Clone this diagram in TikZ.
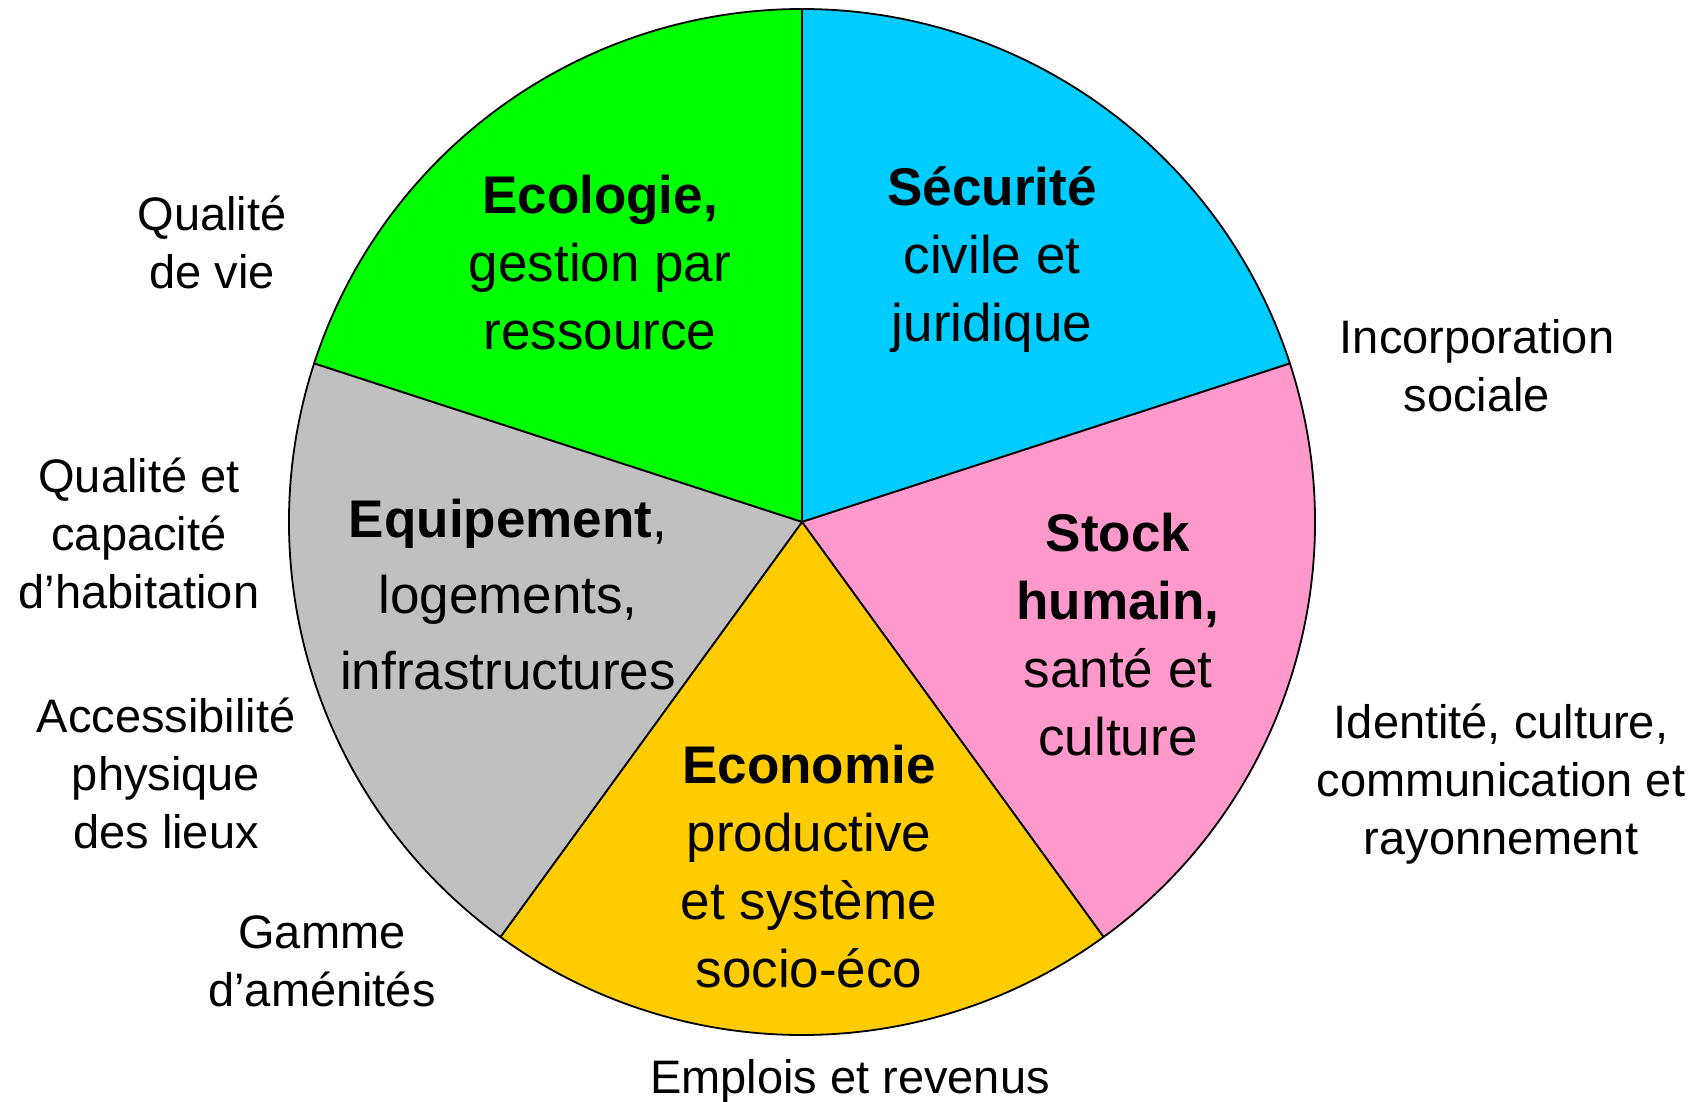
\documentclass[tikz,border=0pt]{standalone}
\usepackage{fontspec}
\setmainfont{Liberation Sans}
\definecolor{ecogreen}{HTML}{00FF00}
\definecolor{seccyan}{HTML}{00CCFF}
\definecolor{stockpink}{HTML}{FF99CC}
\definecolor{ecogold}{HTML}{FFCC00}
\definecolor{equipgray}{HTML}{C0C0C0}
\begin{document}
\begin{tikzpicture}[x=1pt,y=-1pt,
  wedge/.style={draw=black, line width=1.8pt, line join=round},
  side/.style={align=center, inner sep=0pt, anchor=base,
    font=\fontsize{47}{58}\selectfont},
  core/.style={align=center, inner sep=0pt, anchor=base,
    font=\fontsize{53}{68}\selectfont}]
\useasboundingbox (0,0) rectangle (1705,1102);
\fill[white] (0,0) rectangle (1705,1102);
\def\pieradius{513}
\coordinate (C) at (802,522);

% five sectors of 72 degrees each (angles measured clockwise, y down)
\filldraw[wedge, fill=ecogreen]  (C) -- ++(198:\pieradius) arc[start angle=198, end angle=270, radius=\pieradius] -- cycle;
\filldraw[wedge, fill=seccyan]   (C) -- ++(270:\pieradius) arc[start angle=270, end angle=342, radius=\pieradius] -- cycle;
\filldraw[wedge, fill=stockpink] (C) -- ++(-18:\pieradius) arc[start angle=-18, end angle=54, radius=\pieradius] -- cycle;
\filldraw[wedge, fill=ecogold]   (C) -- ++(54:\pieradius) arc[start angle=54, end angle=126, radius=\pieradius] -- cycle;
\filldraw[wedge, fill=equipgray] (C) -- ++(126:\pieradius) arc[start angle=126, end angle=198, radius=\pieradius] -- cycle;

% sector titles
\node[core] (eco) at (600,349) {\textbf{Ecologie,}\\gestion par\\ressource};
\node[core] (sec) at (992,341) {\textbf{Sécurité}\\civile et\\juridique};
\node[core, font=\fontsize{53}{76}\selectfont] (equ) at (508,689) {\textbf{Equipement},\\logements,\\infrastructures};
\node[core] (stk) at (1118,755) {\textbf{Stock}\\\textbf{humain,}\\santé et\\culture};
\node[core] (ecn) at (809,987) {\textbf{Economie}\\productive\\et système\\socio-éco};

% outer labels
\node[side] (qv)  at (212,288)  {Qualité\\de vie};
\node[side] (inc) at (1477,411) {Incorporation\\sociale};
\node[side] (hab) at (139,608)  {Qualité et\\capacité\\d’habitation};
\node[side] (acc) at (166,848)  {Accessibilité\\physique\\des lieux};
\node[side] (idt) at (1501,854) {Identité, culture,\\communication et\\rayonnement};
\node[side] (gam) at (322,1006) {Gamme\\d’aménités};
\node[side] (emp) at (850,1093) {Emplois et revenus};
\end{tikzpicture}
\end{document}
